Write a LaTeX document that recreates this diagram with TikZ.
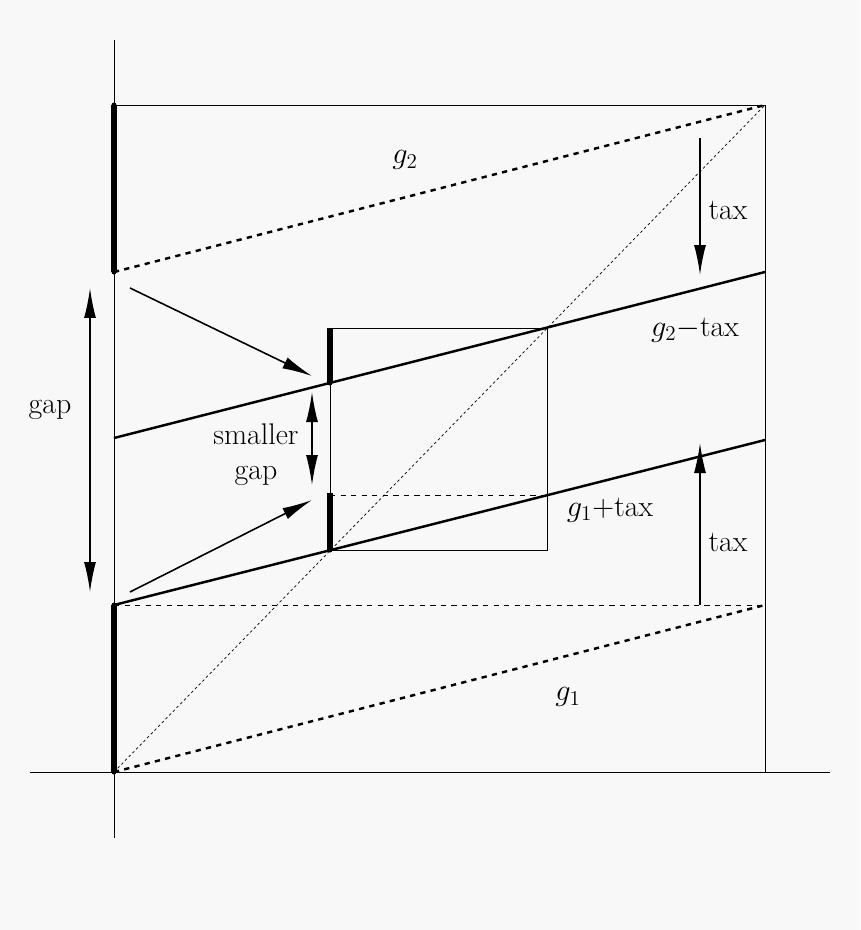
\documentclass[tikz,border=0pt]{standalone}
\usepackage{amsmath}
\usetikzlibrary{positioning,arrows.meta}
\definecolor{bgcol}{RGB}{248,248,248}
\tikzset{
  lbl/.style={font=\fontsize{17}{20}\selectfont},
  thickbar/.style={line width=3pt},
  curve/.style={line width=1.4pt},
  arr/.style={-{Latex[length=6mm,width=2.4mm]},line width=0.9pt},
  darr/.style={{Latex[length=6mm,width=2.4mm]}-{Latex[length=6mm,width=2.4mm]},line width=0.9pt}
}
\begin{document}
\begin{tikzpicture}[x=0.02cm,y=-0.02cm]
 \fill[bgcol](0,0) rectangle (860,930);
 % axes and frame
 \draw (114,40)--(114,838);
 \draw (30,772)--(830,772);
 \draw (114,105)--(765,105)--(765,772);
 \coordinate (O) at (114,772);
 \coordinate (TR) at (765,105);
 \draw[dash pattern=on 1.5pt off 1.5pt] (O)--(TR);
 % lines
 \draw[curve,dashed] (114,272)--(765,105);
 \draw[curve] (114,438)--(765,272);
 \draw[curve] (114,605)--(765,440);
 \draw[curve,dashed] (114,772)--(765,605);
 \draw[dashed] (114,605)--(765,605);
 % small box
 \draw (330,328) rectangle (547,550);
 \draw[dashed] (330,495)--(547,495);
 % bars
 \draw[thickbar] (114,105)--(114,272);
 \draw[thickbar] (114,605)--(114,772);
 \draw[thickbar] (330,328)--(330,383);
 \draw[thickbar] (330,493)--(330,550);
 \foreach \p in {(114,105),(114,272),(114,605),(114,772),(330,383),(330,550)}
   \fill \p circle (2.5);
 % arrows
 \draw[arr] (130,288)--(312,376);
 \draw[arr] (130,592)--(312,500);
 \draw[darr] (90,288)--(90,592);
 \draw[darr] (312,392)--(312,485);
 \draw[arr] (700,138)--(700,275);
 \draw[arr] (700,605)--(700,443);
 % labels
 \node[lbl] (gap) at (50,410) {gap};
 \node[lbl,align=center] (sgap) at (256,455) {smaller\\gap};
 \node[lbl] (taxa) at (728,210) {tax};
 \node[lbl] (taxb) at (728,542) {tax};
 \node[lbl] (gtwo) at (405,160) {$g_2$};
 \node[lbl] (gtwotax) at (695,330) {$g_2$$-$tax};
 \node[lbl] (gonetax) at (610,510) {$g_1$$+$tax};
 \node[lbl] (gone) at (568,697) {$g_1$};
\end{tikzpicture}
\end{document}
